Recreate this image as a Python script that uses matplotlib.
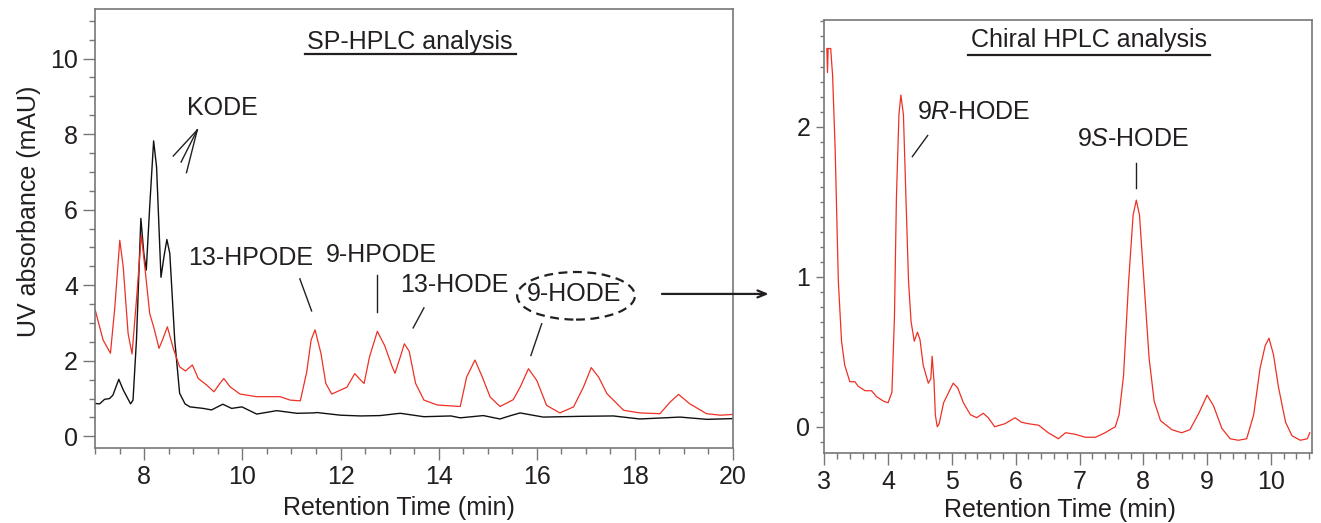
import matplotlib
matplotlib.use('Agg')
import matplotlib.pyplot as plt
from matplotlib.patches import Ellipse
from matplotlib.ticker import MultipleLocator

# SP-HPLC, reference standard (black trace)
sp_std_time = [7.0, 7.09, 7.19, 7.29, 7.36, 7.48, 7.57, 7.72, 7.77, 7.84, 7.93, 7.99, 8.04, 8.11,
               8.19, 8.25, 8.34, 8.40, 8.46, 8.52, 8.62, 8.72, 8.83, 8.93, 9.20, 9.37, 9.60, 9.78,
               9.99, 10.29, 10.70, 11.11, 11.44, 11.52, 12.0, 12.41, 12.81, 13.14, 13.22, 13.70,
               14.25, 14.44, 14.91, 15.25, 15.47, 15.66, 16.13, 16.88, 17.56, 18.10, 18.92, 19.47, 20.0]
sp_std_abs = [0.87, 0.86, 0.98, 1.0, 1.09, 1.51, 1.23, 0.86, 0.96, 2.55, 5.77, 4.84, 4.40, 6.08,
              7.82, 7.13, 4.21, 4.75, 5.21, 4.84, 2.55, 1.14, 0.86, 0.78, 0.74, 0.70, 0.85, 0.74,
              0.78, 0.59, 0.68, 0.61, 0.62, 0.63, 0.56, 0.54, 0.55, 0.60, 0.61, 0.52,
              0.54, 0.49, 0.55, 0.46, 0.55, 0.62, 0.51, 0.53, 0.54, 0.46, 0.51, 0.45, 0.47]

# SP-HPLC, sample (red trace)
sp_smp_time = [7.0, 7.16, 7.31, 7.40, 7.50, 7.57, 7.67, 7.75, 7.84, 7.94, 8.01, 8.11, 8.19, 8.30,
               8.37, 8.47, 8.59, 8.72, 8.84, 8.98, 9.10, 9.27, 9.42, 9.54, 9.62, 9.75, 9.95, 10.29,
               10.77, 10.97, 11.18, 11.31, 11.40, 11.48, 11.60, 11.70, 11.82, 12.06, 12.13, 12.29,
               12.41, 12.48, 12.59, 12.75, 12.90, 13.05, 13.11, 13.22, 13.30, 13.40, 13.53, 13.70,
               13.97, 14.44, 14.57, 14.74, 14.88, 15.05, 15.25, 15.52, 15.66, 15.83, 16.0, 16.20,
               16.47, 16.75, 16.95, 17.11, 17.26, 17.43, 17.77, 18.10, 18.51, 18.72, 18.89, 19.12,
               19.46, 19.74, 20.0]
sp_smp_abs = [3.34, 2.55, 2.20, 3.43, 5.19, 4.49, 2.72, 2.18, 3.61, 5.33, 4.49, 3.25, 2.90, 2.33,
              2.55, 2.90, 2.33, 1.84, 1.73, 1.89, 1.53, 1.36, 1.18, 1.40, 1.53, 1.31, 1.12, 1.05,
              1.05, 0.96, 0.94, 1.70, 2.55, 2.82, 2.20, 1.40, 1.12, 1.26, 1.30, 1.66,
              1.49, 1.40, 2.10, 2.78, 2.40, 1.85, 1.67, 2.11, 2.45, 2.25, 1.40, 0.96,
              0.83, 0.79, 1.57, 2.02, 1.60, 1.04, 0.79, 0.97, 1.30, 1.79, 1.48, 0.82,
              0.62, 0.78, 1.30, 1.82, 1.57, 1.13, 0.69, 0.62, 0.60, 0.91, 1.11, 0.86,
              0.60, 0.56, 0.58]

# Chiral HPLC of the collected 9-HODE fraction
ch_time = [3.04, 3.05, 3.06, 3.10, 3.13, 3.17, 3.22, 3.27, 3.32, 3.40, 3.48, 3.53, 3.64, 3.74,
           3.82, 3.93, 4.00, 4.06, 4.10, 4.13, 4.17, 4.20, 4.24, 4.28, 4.32, 4.36, 4.41, 4.46,
           4.50, 4.55, 4.63, 4.67, 4.69, 4.72, 4.74, 4.77, 4.80, 4.87, 4.95, 5.02, 5.09, 5.18,
           5.29, 5.39, 5.49, 5.57, 5.67, 5.83, 5.99, 6.09, 6.20, 6.36, 6.51, 6.67, 6.78, 6.93,
           7.09, 7.25, 7.40, 7.56, 7.62, 7.69, 7.77, 7.84, 7.89, 7.94, 8.01, 8.09, 8.17, 8.27,
           8.45, 8.60, 8.73, 8.87, 9.0, 9.10, 9.23, 9.36, 9.49, 9.62, 9.73, 9.83, 9.91, 9.97,
           10.04, 10.12, 10.23, 10.33, 10.46, 10.57, 10.61]
ch_abs = [2.52, 2.36, 2.52, 2.52, 2.34, 1.85, 0.97, 0.57, 0.41, 0.30, 0.30, 0.27, 0.24, 0.24,
          0.20, 0.17, 0.16, 0.23, 0.74, 1.52, 2.08, 2.21, 2.08, 1.52, 0.97, 0.70, 0.57, 0.63,
          0.58, 0.41, 0.29, 0.32, 0.47, 0.30, 0.08, 0.0, 0.02, 0.16, 0.23, 0.29, 0.26, 0.16,
          0.08, 0.06, 0.09, 0.06, 0.0, 0.02, 0.06, 0.03, 0.02, 0.01, -0.04, -0.08, -0.04, -0.05,
          -0.07, -0.07, -0.04, 0.0, 0.08, 0.34, 0.97, 1.41, 1.51, 1.41, 0.97, 0.46, 0.17, 0.04,
          -0.02, -0.04, -0.02, 0.09, 0.21, 0.14, -0.01, -0.08, -0.09, -0.08, 0.08, 0.39, 0.54, 0.59,
          0.48, 0.26, 0.03, -0.06, -0.09, -0.08, -0.04]

sp_labels = ["KODE", "13-HPODE", "9-HPODE", "13-HODE", "9-HODE"]
chiral_labels = ["9$\\mathit{R}$-HODE", "9$\\mathit{S}$-HODE"]

plt.rcParams['font.family'] = ['Liberation Sans', 'DejaVu Sans']
plt.rcParams['mathtext.fontset'] = 'custom'
plt.rcParams['mathtext.rm'] = 'Liberation Sans'
plt.rcParams['mathtext.it'] = 'Liberation Sans:italic'
size = 18
red = '#ee3124'
spine_col = '#777777'
text_col = '#231f20'

fig = plt.figure(figsize=(13.21, 5.23), dpi=100)
ax1 = fig.add_axes([0.0721, 0.144, 0.4828, 0.838])
ax2 = fig.add_axes([0.624, 0.1344, 0.369, 0.8274])


def style(ax):
    for s in ax.spines.values():
        s.set_color(spine_col)
        s.set_linewidth(1.2)
    ax.tick_params(which='both', direction='out', colors=spine_col, labelcolor=text_col,
                   labelsize=size, width=1.0, top=False, right=False)
    ax.tick_params(which='major', length=8.5, pad=4)
    ax.tick_params(which='minor', length=4)


# left: SP-HPLC
ax1.plot(sp_std_time, sp_std_abs, color='#111111', lw=1.0)
ax1.plot(sp_smp_time, sp_smp_abs, color=red, lw=0.9)
ax1.set_xlim(7, 20)
ax1.set_ylim(-0.3, 11.3)
ax1.xaxis.set_major_locator(MultipleLocator(2))
ax1.xaxis.set_minor_locator(MultipleLocator(0.5))
ax1.yaxis.set_major_locator(MultipleLocator(2))
ax1.yaxis.set_minor_locator(MultipleLocator(0.5))
style(ax1)
ax1.set_xlabel("Retention Time (min)", fontsize=size, color=text_col, va='top')
ax1.xaxis.set_label_coords(0.476, -0.11)
ax1.set_ylabel("UV absorbance (mAU)", fontsize=size, color=text_col)
ax1.yaxis.set_label_coords(-0.085, 0.54)

ax1.text(13.42, 10.45, "SP-HPLC analysis", fontsize=size, color=text_col, ha='center', va='center')
ax1.plot([11.28, 15.58], [10.12, 10.12], color=text_col, lw=1.6)

ax1.text(9.60, 8.68, sp_labels[0], fontsize=size, color=text_col, ha='center', va='center')
for xe, ye in [(8.59, 7.42), (8.75, 7.26), (8.86, 6.98)]:
    ax1.plot([9.08, xe], [8.11, ye], color=text_col, lw=1.0)
ax1.text(10.16, 4.71, sp_labels[1], fontsize=size, color=text_col, ha='center', va='center')
ax1.plot([11.17, 11.41], [4.17, 3.32], color=text_col, lw=1.0)
ax1.text(12.83, 4.81, sp_labels[2], fontsize=size, color=text_col, ha='center', va='center')
ax1.plot([12.74, 12.74], [4.28, 3.29], color=text_col, lw=1.0)
ax1.text(14.32, 4.0, sp_labels[3], fontsize=size, color=text_col, ha='center', va='center')
ax1.plot([13.70, 13.48], [3.40, 2.87], color=text_col, lw=1.0)
ax1.text(16.75, 3.78, sp_labels[4], fontsize=size, color=text_col, ha='center', va='center')
ax1.add_patch(Ellipse((16.80, 3.72), 2.40, 1.26, fill=False, ec=text_col, lw=1.6,
                      ls=(0, (4, 2.5))))
ax1.plot([16.10, 15.88], [2.98, 2.14], color=text_col, lw=1.0)

# arrow from 9-HODE to chiral panel
ax1.annotate('', xy=(0.584, 0.438), xytext=(0.499, 0.438), xycoords='figure fraction',
             textcoords='figure fraction', annotation_clip=False,
             arrowprops=dict(arrowstyle='->,head_length=0.6,head_width=0.25', color=text_col, lw=1.6))

# right: chiral HPLC
ax2.plot(ch_time, ch_abs, color=red, lw=0.9)
ax2.set_xlim(3, 10.64)
ax2.set_ylim(-0.173, 2.71)
ax2.xaxis.set_major_locator(MultipleLocator(1))
ax2.xaxis.set_minor_locator(MultipleLocator(0.2))
ax2.yaxis.set_major_locator(MultipleLocator(1))
ax2.yaxis.set_minor_locator(MultipleLocator(0.1))
style(ax2)
ax2.tick_params(axis='y', which='major', length=6)
ax2.tick_params(axis='y', which='minor', length=3)
ax2.set_xlabel("Retention Time (min)", fontsize=size, color=text_col, va='top')
ax2.xaxis.set_label_coords(0.484, -0.105)

ax2.text(7.15, 2.575, "Chiral HPLC analysis", fontsize=size, color=text_col, ha='center', va='center')
ax2.plot([5.26, 9.04], [2.48, 2.48], color=text_col, lw=1.6)
ax2.text(5.34, 2.10, chiral_labels[0], fontsize=size, color=text_col, ha='center', va='center')
ax2.plot([4.62, 4.38], [1.94, 1.80], color=text_col, lw=1.0)
ax2.text(7.84, 1.92, chiral_labels[1], fontsize=size, color=text_col, ha='center', va='center')
ax2.plot([7.88, 7.88], [1.76, 1.59], color=text_col, lw=1.0)

plt.savefig("out.png", dpi=100)
